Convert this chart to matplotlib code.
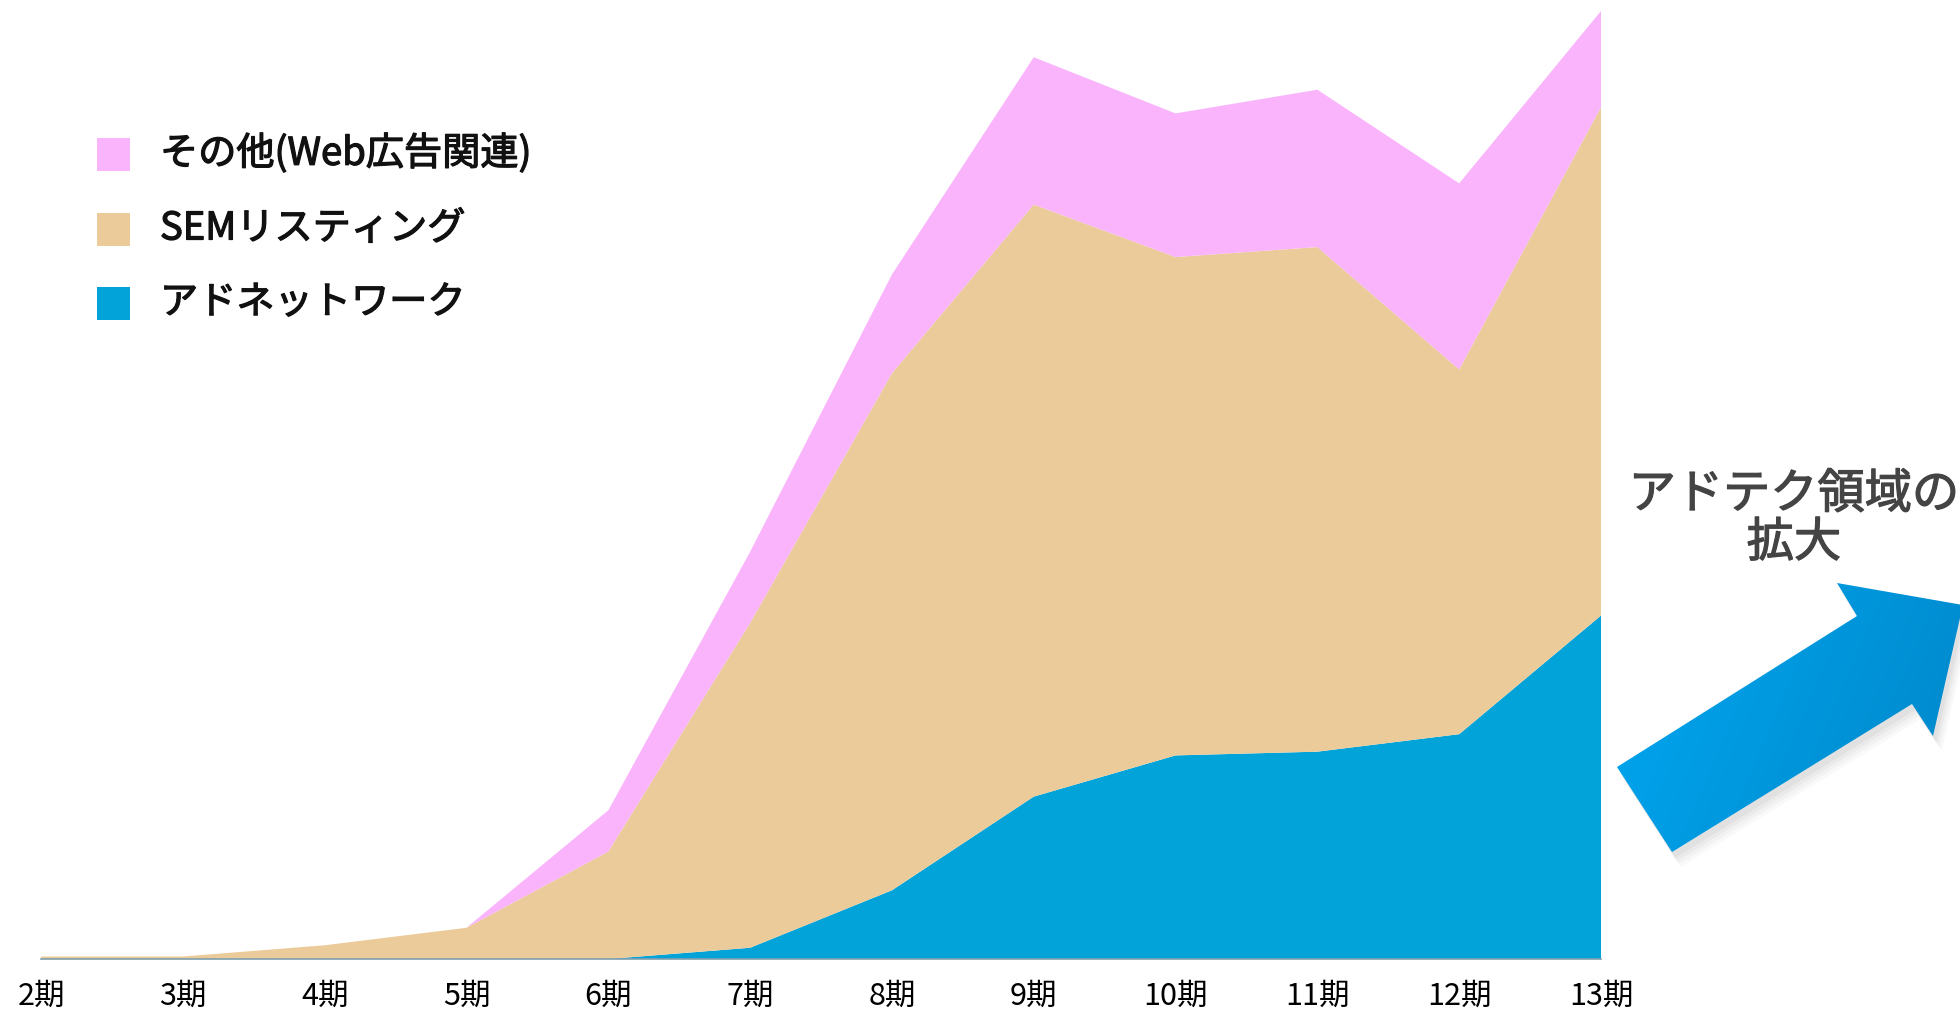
import numpy as np
import matplotlib
matplotlib.use("Agg")
import matplotlib.pyplot as plt
import matplotlib.patheffects as pe
from matplotlib.patches import Polygon

plt.rcParams['font.family'] = ['Noto Sans CJK JP', 'DejaVu Sans']

# data (arbitrary units)
periods = ['2期', '3期', '4期', '5期', '6期', '7期', '8期', '9期', '10期', '11期', '12期', '13期']
ad_network = [0, 0, 0, 0, 0, 9, 55, 130, 163, 166, 180, 275]
sem_listing = [2, 2, 11, 25, 86, 260, 414, 474, 399, 404, 292, 407]
others = [0, 0, 0, 0, 33, 57, 79, 118, 115, 126, 149, 77]

series_names = ['アドネットワーク', 'SEMリスティング', 'その他(Web広告関連)']
colors = ['#02A3D9', '#EBCB99', '#F9B4FC']

W, H = 1960, 1012
fig = plt.figure(figsize=(W / 100, H / 100), dpi=100)

# main stacked area
ax = fig.add_axes([41 / W, 1 - 960 / H, (1601 - 41) / W, (960 - 12) / H])
x = np.arange(len(periods))
ax.stackplot(x, ad_network, sem_listing, others, colors=colors, linewidth=0)
top = np.array(ad_network) + np.array(sem_listing) + np.array(others)
ax.set_xlim(0, len(periods) - 1)
ax.set_ylim(0, top.max())
for s in ['top', 'right', 'left']:
    ax.spines[s].set_visible(False)
ax.spines['bottom'].set_color('#7F9FAF')
ax.spines['bottom'].set_linewidth(1.2)
ax.set_yticks([])
ax.set_xticks(x)
ax.set_xticklabels(periods, fontsize=22)
ax.tick_params(axis='x', length=0, pad=15)

# legend drawn by hand (top-down order: others, SEM, adnetwork)
overlay = fig.add_axes([0, 0, 1, 1])
overlay.set_xlim(0, W)
overlay.set_ylim(H, 0)
overlay.axis('off')
overlay.patch.set_alpha(0)

semi = lambda c: [pe.withStroke(linewidth=0.9, foreground=c)]
legend_y = [155, 230, 304]
for name, c, ly in zip(series_names[::-1], colors[::-1], legend_y):
    overlay.add_patch(plt.Rectangle((97, ly - 16), 33, 33, color=c, lw=0))
    overlay.text(160, ly, name, fontsize=27.5, va='center', ha='left', color='#111111',
                 path_effects=semi('#111111'))

# annotation text
overlay.text(1794, 520, 'アドテク領域の\n拡大', fontsize=34, color='#444444',
             ha='center', va='center', linespacing=1.0, path_effects=semi('#444444'))

# block arrow with gradient
pts = np.array([(1617, 768), (1857, 617), (1837, 584), (1963, 606),
                (1933, 737), (1912, 705), (1672, 853)])
for k, a in enumerate([0.06, 0.05, 0.04, 0.03]):
    sh = Polygon(pts + np.array([3 + 2 * k, 6 + 3 * k]), closed=True, color='#555555', alpha=a, lw=0)
    overlay.add_patch(sh)
arrow = Polygon(pts, closed=True, facecolor='none', edgecolor='none')
overlay.add_patch(arrow)
gx = np.linspace(0, 1, 256)
gy = np.linspace(0, 1, 64)
grad = 0.75 * gx[None, :] + 0.25 * gy[:, None]
cmap = matplotlib.colors.LinearSegmentedColormap.from_list('arr', ['#00A8F2', '#0086C8'])
im = overlay.imshow(grad, cmap=cmap, extent=(1610, 1965, 860, 580), aspect='auto', zorder=3)
im.set_clip_path(arrow)
overlay.set_xlim(0, W)
overlay.set_ylim(H, 0)

fig.savefig('out.png', dpi=100, facecolor='white')
